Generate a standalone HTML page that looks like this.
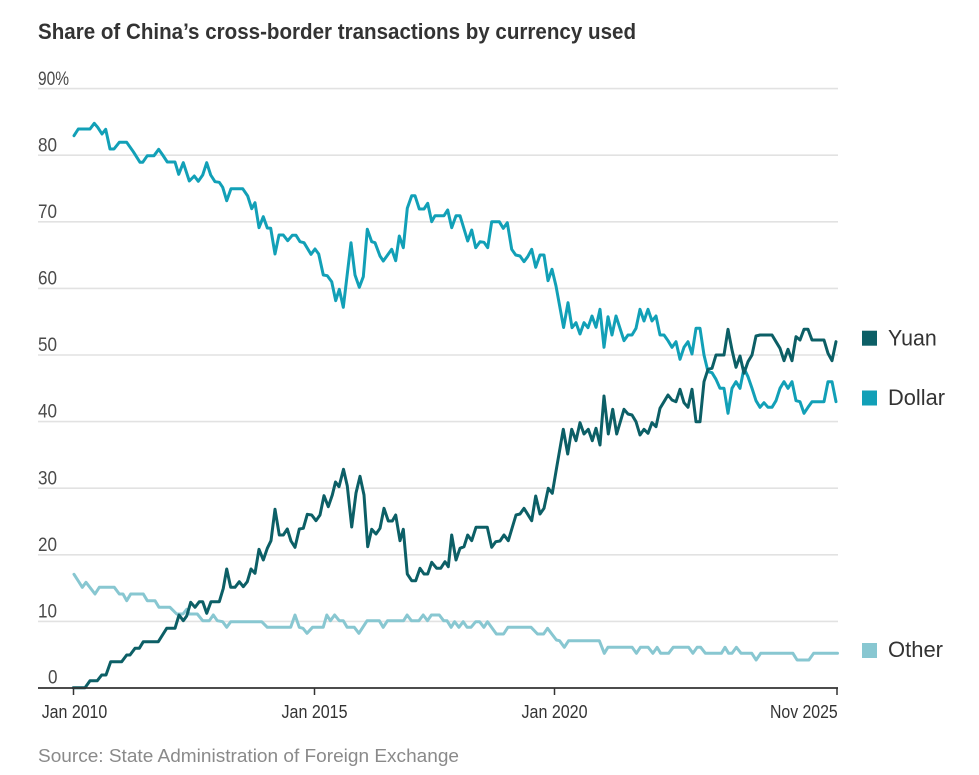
<!DOCTYPE html>
<html><head><meta charset="utf-8"><style>
html,body{margin:0;padding:0;background:#fff;}
svg{display:block;font-family:"Liberation Sans",Arial,sans-serif;}
</style></head><body>
<svg width="979" height="775" viewBox="0 0 979 775" xmlns="http://www.w3.org/2000/svg">
<rect width="979" height="775" fill="#fff"/>
<text x="38" y="39" font-size="22" font-weight="bold" fill="#333" textLength="598" lengthAdjust="spacingAndGlyphs">Share of China’s cross-border transactions by currency used</text>
<g stroke="#e2e2e2" stroke-width="1.6">
<line x1="38" x2="838" y1="88.6" y2="88.6"/>
<line x1="38" x2="838" y1="155.2" y2="155.2"/>
<line x1="38" x2="838" y1="221.8" y2="221.8"/>
<line x1="38" x2="838" y1="288.4" y2="288.4"/>
<line x1="38" x2="838" y1="355" y2="355"/>
<line x1="38" x2="838" y1="421.6" y2="421.6"/>
<line x1="38" x2="838" y1="488.2" y2="488.2"/>
<line x1="38" x2="838" y1="554.8" y2="554.8"/>
<line x1="38" x2="838" y1="621.4" y2="621.4"/>
</g>
<g font-size="19" fill="#4a4a4a">
<text x="38" y="85" textLength="31" lengthAdjust="spacingAndGlyphs">90%</text>
<text x="38" y="151.5" textLength="19" lengthAdjust="spacingAndGlyphs">80</text>
<text x="38" y="218" textLength="19" lengthAdjust="spacingAndGlyphs">70</text>
<text x="38" y="284.5" textLength="19" lengthAdjust="spacingAndGlyphs">60</text>
<text x="38" y="351" textLength="19" lengthAdjust="spacingAndGlyphs">50</text>
<text x="38" y="417.5" textLength="19" lengthAdjust="spacingAndGlyphs">40</text>
<text x="38" y="484.5" textLength="19" lengthAdjust="spacingAndGlyphs">30</text>
<text x="38" y="551" textLength="19" lengthAdjust="spacingAndGlyphs">20</text>
<text x="38" y="617.5" textLength="19" lengthAdjust="spacingAndGlyphs">10</text>
<text x="48" y="683.3" textLength="9.5" lengthAdjust="spacingAndGlyphs">0</text>
</g>
<g fill="none" stroke-width="3" stroke-linejoin="round" stroke-linecap="round">
<polyline stroke="#88c7d1" points="74,574.3 78.3,581 82.3,587.3 86,582.3 95,594 99.3,587.3 114.3,587.3 119.3,594 123,594 126.7,600.7 130.7,594 143.3,594 147.3,600.7 155,600.7 159,607.3 170,607.3 176.7,614 183,614 186.7,609.3 189.3,614 197.3,614 202.7,620.7 209.3,620.7 213.3,615 217.3,620.7 222.7,621.7 226.7,627.3 230.7,621.7 261.7,621.7 267.3,627.3 290.7,627.3 295,615 299.3,627.3 303,628.3 307,633.3 312.5,627.3 323.2,627.3 326.8,615 330.4,620.7 334.6,615 339.3,620.7 343.3,620.7 347.1,627.3 354.3,627.3 358.9,633.3 367.1,620.7 379.3,620.7 383.2,627.3 387.5,620.7 403.6,620.7 407.1,615 411.4,620.7 418.9,620.7 423.2,615 427.5,620.7 431.4,615 439.3,615 443.6,620.7 447,620.7 451.1,627.3 454.6,621.7 458.9,627.3 463.2,621.7 467.1,627.3 471,627.3 475.7,621.7 479.6,621.7 483.9,627.3 487.5,621.7 496.4,634 503.6,634 507.9,627.3 531.1,627.3 537.5,634 543.6,634 547.5,628.3 551.8,634 556.4,640 559.6,640.7 564.3,647.3 568.6,640.7 599.3,640.7 604.3,653.3 607.9,647.3 632.1,647.3 636.4,653.3 640.4,647.3 648.2,647.3 652.9,653.3 657.1,647.3 660.7,653.3 668.6,653.3 673.2,647.3 688.6,647.3 692.9,653.3 697.1,647.3 700.7,647.3 705.4,653.3 721.4,653.3 725,647.3 728.6,653.3 732,653.3 736.4,647.3 741.1,653.3 751.8,653.3 756.1,660 760.7,653.3 792.9,653.3 797.1,660 808.9,660 813.6,653.3 837.5,653.3"/>
<polyline stroke="#12a0b7" points="74,135.7 78.3,129 90,129 94.3,123.3 97.7,127.3 102,134 105.7,129.3 110,149 114,149 119.3,142.3 126.7,142.3 133.3,151.7 140,162.3 142.7,162.3 147.3,155.7 154,155.7 158.7,149.3 162.7,155 167.3,162 175,162 178.7,174.3 183.3,162.7 189.3,181 194.3,176 198.3,181.3 202.7,175 206.7,162.7 210.7,175 215,181.7 219.3,182.3 222.7,187.3 226.7,200.7 231,188.7 242.7,188.7 247.7,196 251.7,208.7 255,202.7 259,227.7 263.3,216.7 267.3,228 270.7,228.3 275,254 279,235 283.3,235 287.7,240.7 292.3,235.3 296,235.3 300,241.7 304,242.7 311,254.3 315,249 318.7,254 323.3,275 327.3,275.7 331.7,281.7 335.7,300.7 339.3,289.3 343.3,307.3 351,242.7 355,275 359.3,287.3 363.3,276.7 367.3,229.3 371.7,241.7 375,242.7 380,256 383.3,261 391.7,249.3 395.7,260.7 399.3,236 403.3,247.7 407.3,208.3 411.7,195.7 415,195.7 419.3,209 424,209 427.7,203.3 431.7,221.7 435,215.7 444,215.7 447.7,210 451.7,227.7 456,215.7 460,215.7 467.7,241 471.7,230 475.7,247.7 480,241.7 484,242.3 487.7,247.7 491.7,221.7 499.3,221.7 503.3,228.3 507.3,222.7 511.7,249.3 515.7,255 520,256 524,261.7 527.7,256.7 531.7,249.3 535.7,267.3 540,255 544,255 548,280.7 552,269.3 556,286 563.6,327.5 568,302.7 572,327.7 576,322.7 580,334 584,322.7 588,327.7 592,316 596,327.3 600,309.3 604,347.3 608,316.7 612,335 616,316 620,328.3 624,340.7 628,335 632,335 636,328.3 640,309.3 644,321 648,309.3 652,321 656,316 660,335 664,335 668,340.7 672,347.3 676,341.7 680,359.3 684,347.3 688,341.7 692,354 696,328.3 700,328.3 704,355 708,371.7 712,372.7 716,379.3 720,388.3 724,388.3 728,413.3 732,388.3 736,381.7 740,388.3 744,368.3 748,376.7 752,388.3 756,400.7 760,407.3 764,402.7 768,407.3 772,407.3 776,400.7 780,388.3 784,381.7 788,388.3 792,381.7 796,400.7 800,401.7 804,413.3 808,407.3 812,401.7 824,401.7 828,381.7 832,381.7 836,401.7"/>
<polyline stroke="#0c5f66" points="73.3,687.7 85,687.7 90,680.7 97.3,680.7 101.7,675 106,675 110.7,661.7 121.7,661.7 126.7,655 130,655 135,648.3 139.3,648.3 143.3,641.7 158.3,641.7 166.7,628.3 175,628.3 179,615 183.3,620.7 186.7,616 190.7,602.3 195,607.3 199.3,601.7 202.7,601.7 206.7,613.3 211,601.7 219.3,601.7 223.3,588.3 226.7,569 230.7,587.3 235,587.3 239.3,581.7 243.3,586.7 247.3,581.7 251,569 255,573.3 259,549.3 263.3,560 267.3,548.3 271,540.7 275,509.3 279.3,535 283.3,535 287.3,529 291,541 295,547.3 299.3,529 303.3,528.3 307.3,514.3 311.7,515 316,520.7 320,515 324,495.7 328.3,506.7 332.3,495 335.5,482 339,486.7 343.5,469.3 347.3,486 351.7,527 356,493 360,476.3 364,495 367.7,546.7 371.7,529.3 376,534 380,528.3 384,508.3 388.3,521 392.3,521 395.7,515 400,540.7 403.3,529.3 407.3,574 411.7,580.7 415.7,580.7 420,568.3 424,574 427.7,574 431.7,562.3 436.7,568.3 440.7,568.3 445,561.7 448.3,566.7 451.7,535 456,560 460,548.3 464,546.7 467.7,535 471.7,540.7 476,527.3 487.3,527.3 491.7,547.3 495.7,541.7 500,541 504,535 508.3,540.7 516,515 520,514 524,508.3 531.7,520.7 535.7,496 540,514 544,508.3 548.3,488.3 552.3,493.3 556.7,467.3 563.3,429.3 567.7,454 571.7,429.3 576,440.7 580,422.7 584,434 588.3,429.3 592.3,440.7 596,428.3 600,445 604,396 608.3,434 612.7,409.3 616.7,434 624,409.3 628,414 632,415 636,421.7 640,435 644,429.3 648,433.3 652,422.7 656,426.7 660,408.3 664,401.7 668,395 672,400 676,401.7 680,389.3 684,402.7 688,407.3 692,389.3 696,421.7 700,421.7 704,381.7 708,369.3 712,368.3 716,355 720,355 724,355 728,329.3 732,350 736,367.3 740,356 744,373.3 748,361.7 752,355 756,336 760,335 772,335 776,341.7 780,348.3 784,360.7 788,349.3 792,360.7 796,336.7 800,340 804,329.3 808,329.3 812,340 824,340 828,353.3 832,360.7 836,341.7"/>
</g>
<line x1="38" x2="838" y1="688" y2="688" stroke="#333" stroke-width="1.8"/>
<g stroke="#333" stroke-width="1.5">
<line x1="73.5" x2="73.5" y1="688" y2="695"/>
<line x1="314.5" x2="314.5" y1="688" y2="695"/>
<line x1="554.5" x2="554.5" y1="688" y2="695"/>
<line x1="837" x2="837" y1="688" y2="695"/>
</g>
<g font-size="18.5" fill="#333">
<text x="41.7" y="718" textLength="65.6" lengthAdjust="spacingAndGlyphs">Jan 2010</text>
<text x="281.5" y="718" textLength="66" lengthAdjust="spacingAndGlyphs">Jan 2015</text>
<text x="521.5" y="718" textLength="66" lengthAdjust="spacingAndGlyphs">Jan 2020</text>
<text x="770" y="718" textLength="67.7" lengthAdjust="spacingAndGlyphs">Nov 2025</text>
</g>
<text x="38" y="762" font-size="18.5" fill="#8a8a8a" textLength="421" lengthAdjust="spacingAndGlyphs">Source: State Administration of Foreign Exchange</text>
<rect x="862" y="330.7" width="15" height="15" fill="#0c5f66"/>
<rect x="862" y="390.5" width="15" height="15" fill="#12a0b7"/>
<rect x="862" y="643" width="15" height="15" fill="#88c7d1"/>
<g font-size="22" fill="#333">
<text x="888" y="345.7" textLength="48.7" lengthAdjust="spacingAndGlyphs">Yuan</text>
<text x="888" y="405" textLength="57" lengthAdjust="spacingAndGlyphs">Dollar</text>
<text x="888" y="657" textLength="55" lengthAdjust="spacingAndGlyphs">Other</text>
</g>
</svg>
</body></html>
